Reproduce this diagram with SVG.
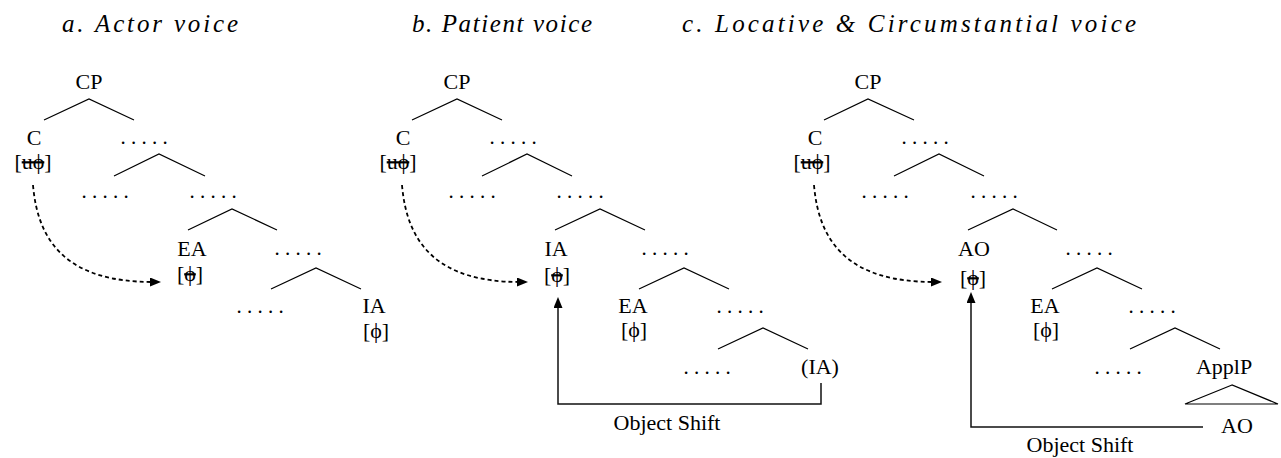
<svg xmlns="http://www.w3.org/2000/svg" width="1281" height="458" viewBox="0 0 1281 458">
<style>
.t{font-family:"Liberation Serif","DejaVu Serif",serif;font-size:22px;text-anchor:middle;fill:#000}
.d{font-family:"Liberation Serif","DejaVu Serif",serif;font-size:21px;text-anchor:middle;fill:#000}
.ti{font-family:"Liberation Serif","DejaVu Serif",serif;font-style:italic;font-size:25px;fill:#000}
.s{text-decoration:line-through}
.br{stroke:#000;stroke-width:1.2;fill:none}
.dash{stroke:#000;stroke-width:1.8;stroke-dasharray:4 3;fill:none}
.mv{stroke:#111;stroke-width:1.5;fill:none}
</style>
<defs>
<marker id="ah" markerWidth="11" markerHeight="9" refX="3" refY="4.5" orient="auto" markerUnits="userSpaceOnUse"><path d="M0,0 L11,4.5 L0,9 z" fill="#000"/></marker>
</defs>
<g id="titles">
<text class="ti" x="62" y="32" textLength="176" lengthAdjust="spacing">a. Actor voice</text>
<text class="ti" x="412" y="32" textLength="180" lengthAdjust="spacing">b.  Patient voice</text>
<text class="ti" x="682" y="32" textLength="454" lengthAdjust="spacing">c.  Locative &amp; Circumstantial voice</text>
</g>
<g id="connectors">
<path class="br" d="M44,120 L89,99 L134,120"/>
<path class="br" d="M114,176 L159,154 L205,176"/>
<path class="br" d="M188,230 L232,209 L277,230"/>
<path class="br" d="M271,289 L316,268 L361,289"/>
<path class="br" d="M412,120 L457,99 L502,120"/>
<path class="br" d="M482,176 L527,154 L572,176"/>
<path class="br" d="M555,230 L600,209 L645,230"/>
<path class="br" d="M639,289 L684,268 L729,289"/>
<path class="br" d="M718,349 L763,328 L808,349"/>
<path class="br" d="M824,120 L868,99 L914,120"/>
<path class="br" d="M894,176 L939,154 L984,176"/>
<path class="br" d="M968,230 L1013,209 L1057,230"/>
<path class="br" d="M1052,289 L1097,268 L1142,289"/>
<path class="br" d="M1130,349 L1175,328 L1220,349"/>
<path class="br" d="M1232,385 L1185,404 L1278,404 Z"/>
<path class="dash" d="M33,185 C38,245 70,282 153,282" marker-end="url(#ah)"/>
<path class="dash" d="M402,185 C407,245 439,282 520,282" marker-end="url(#ah)"/>
<path class="dash" d="M814,185 C819,245 851,282 934,282" marker-end="url(#ah)"/>
<path class="mv" d="M821,383 V404 H558 V305" marker-end="url(#ah)"/>
<path class="mv" d="M1203,427 H971 V300" marker-end="url(#ah)"/>
</g>
<g id="tree-a">
<g id="a-CP"><text class="t" x="89" y="89">CP</text></g>
<g id="a-C"><text class="t" x="34" y="145">C</text><text class="t" x="33" y="169">[<tspan class="s">uϕ</tspan>]</text></g>
<g id="a-d1"><text class="d" x="144" y="144">. . . . .</text></g>
<g id="a-d2"><text class="d" x="105" y="198">. . . . .</text></g>
<g id="a-d3"><text class="d" x="213" y="198">. . . . .</text></g>
<g id="a-EA"><text class="t" x="192" y="256">EA</text><text class="t" x="190" y="281">[<tspan class="s">ϕ</tspan>]</text></g>
<g id="a-d4"><text class="d" x="298" y="255">. . . . .</text></g>
<g id="a-d5"><text class="d" x="260" y="313">. . . . .</text></g>
<g id="a-IA"><text class="t" x="374" y="313">IA</text><text class="t" x="376" y="338">[ϕ]</text></g>
</g>
<g id="tree-b">
<g id="b-CP"><text class="t" x="457" y="89">CP</text></g>
<g id="b-C"><text class="t" x="403" y="145">C</text><text class="t" x="398" y="169">[<tspan class="s">uϕ</tspan>]</text></g>
<g id="b-d1"><text class="d" x="513" y="144">. . . . .</text></g>
<g id="b-d2"><text class="d" x="472" y="198">. . . . .</text></g>
<g id="b-d3"><text class="d" x="580" y="198">. . . . .</text></g>
<g id="b-IA"><text class="t" x="556" y="256">IA</text><text class="t" x="557" y="282">[<tspan class="s">ϕ</tspan>]</text></g>
<g id="b-d4"><text class="d" x="665" y="255">. . . . .</text></g>
<g id="b-EA"><text class="t" x="633" y="313">EA</text><text class="t" x="634" y="337">[ϕ]</text></g>
<g id="b-d5"><text class="d" x="740" y="313">. . . . .</text></g>
<g id="b-d6"><text class="d" x="707" y="374">. . . . .</text></g>
<g id="b-IAt"><text class="t" x="820" y="374">(IA)</text></g>
<g id="b-os"><text class="t" x="667" y="430">Object Shift</text></g>
</g>
<g id="tree-c">
<g id="c-CP"><text class="t" x="868" y="89">CP</text></g>
<g id="c-C"><text class="t" x="815" y="145">C</text><text class="t" x="812" y="169">[<tspan class="s">uϕ</tspan>]</text></g>
<g id="c-d1"><text class="d" x="925" y="144">. . . . .</text></g>
<g id="c-d2"><text class="d" x="885" y="198">. . . . .</text></g>
<g id="c-d3"><text class="d" x="994" y="198">. . . . .</text></g>
<g id="c-AO"><text class="t" x="974" y="256">AO</text><text class="t" x="973" y="285">[<tspan class="s">ϕ</tspan>]</text></g>
<g id="c-d4"><text class="d" x="1089" y="255">. . . . .</text></g>
<g id="c-EA"><text class="t" x="1045" y="313">EA</text><text class="t" x="1046" y="337">[ϕ]</text></g>
<g id="c-d5"><text class="d" x="1152" y="313">. . . . .</text></g>
<g id="c-d6"><text class="d" x="1118" y="374">. . . . .</text></g>
<g id="c-ApplP"><text class="t" x="1224" y="374">ApplP</text></g>
<g id="c-AO2"><text class="t" x="1237" y="433">AO</text></g>
<g id="c-os"><text class="t" x="1080" y="452">Object Shift</text></g>
</g>
</svg>
